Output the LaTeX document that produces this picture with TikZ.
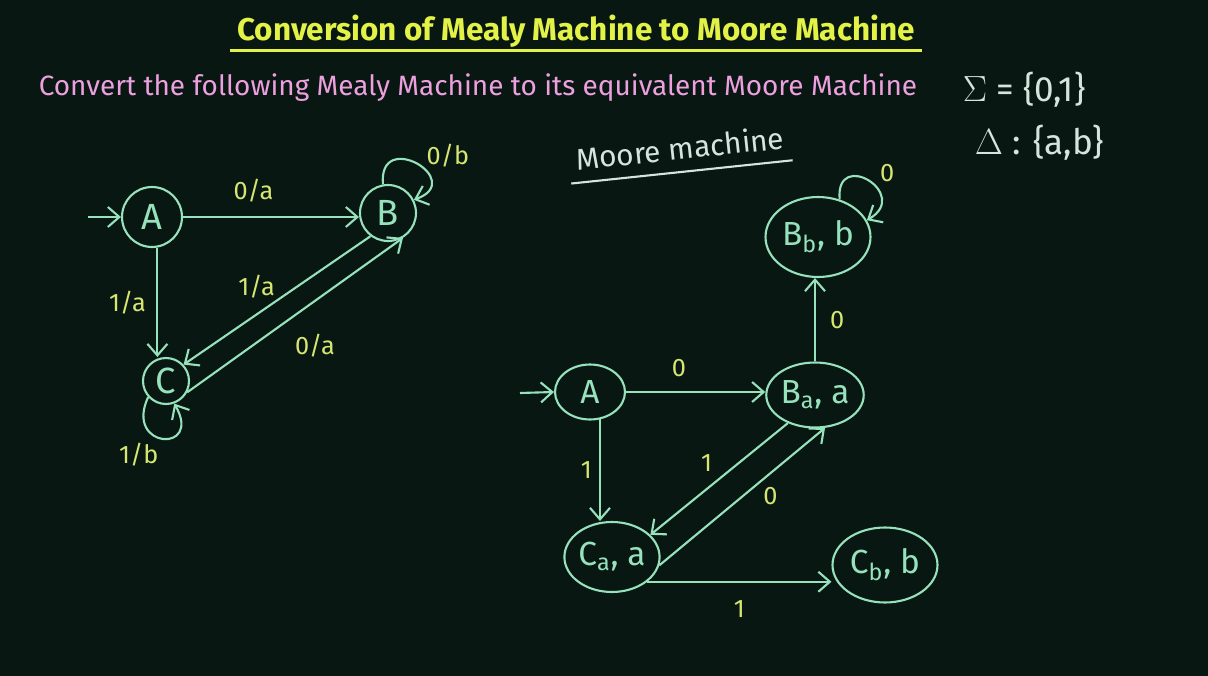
\documentclass[tikz,border=0pt]{standalone}
\usepackage{fontspec}
\setmainfont{Fira Sans}
\usepackage{tikz}
\usetikzlibrary{arrows.meta,positioning,shapes.geometric}
\definecolor{board}{RGB}{9,23,19}
\definecolor{mint}{RGB}{150,226,188}
\definecolor{chalkyellow}{RGB}{214,230,112}
\definecolor{titleyellow}{RGB}{226,242,70}
\definecolor{pinkish}{RGB}{236,160,222}
\definecolor{chalkwhite}{RGB}{214,228,222}

\begin{document}
\begin{tikzpicture}[x=0.02cm, y=0.02cm, >={Straight Barb[length=2.3mm,width=4mm]},
  line width=1.2pt, every node/.style={font=\Large},
  state/.style={circle, draw=mint, line width=1.2pt, inner sep=0pt, text=mint, font=\huge},
  mstate/.style={ellipse, draw=mint, line width=1.2pt, inner sep=0pt, text=mint, font=\fontsize{19}{22}\selectfont},
  lbl/.style={text=chalkyellow, font=\Large, inner sep=2pt}]
\fill[board] (0,0) rectangle (1208,-676);
\useasboundingbox (0,0) rectangle (1208,-676);

% heading
\node[text=titleyellow, font=\fontsize{17.9}{21}\bfseries\selectfont] (title) at (576,-31) {Conversion of Mealy Machine to Moore Machine};
\draw[titleyellow, line width=1.6pt] ([yshift=2pt]title.south west) -- ([yshift=2pt]title.south east);
\node[text=pinkish, font=\fontsize{15.9}{19}\selectfont] (task) at (478,-88) {Convert the following Mealy Machine to its equivalent Moore Machine};
\node[text=chalkwhite, anchor=west, font=\fontsize{20}{24}\selectfont] (sigma) at (956,-90) {$\Sigma$ = \{0,1\}};
\node[text=chalkwhite, anchor=west, font=\fontsize{20}{24}\selectfont] (delta) at (968,-143) {$\Delta$ : \{a,b\}};

% Mealy machine
\node[state, minimum size=1.2cm] (A) at (152,-217) {A};
\node[state, minimum size=1.12cm] (B) at (388,-213) {B};
\node[state, minimum size=0.92cm] (C) at (166,-381) {C};
\coordinate (startA) at (88,-217);
\draw[->, mint] (startA) -- (A);
\draw[->, mint] (A.east) -- node[lbl, pos=0.4, above=6pt]{0/a} (A.east -| B.west);
\draw[->, mint] (A.-80) -- node[lbl, left=4pt]{1/a} (A.-80 |- C.north);
\draw[->, mint] (B.233) -- node[lbl, above left=-2pt]{1/a} (C.43);
\draw[->, mint] (C.332) -- node[lbl, pos=0.45, below right=5pt]{0/a} (B.301);
\draw[->, mint] (B.100) to[out=95, in=20, looseness=4.2] node[lbl, pos=0.6, above right=-2pt]{0/b} (B.27);
\draw[->, mint] (C.222) to[out=245, in=300, looseness=5.5] node[lbl, pos=0.5, below left=0pt]{1/b} (C.290);

% Moore machine
\node[text=chalkwhite, rotate=6, font=\fontsize{17}{20}\selectfont] (moore) at (680,-148) {Moore machine};
\draw[chalkwhite, line width=1.2pt] ([yshift=-3pt]moore.south west) -- ([yshift=-3pt]moore.south east);
\node[mstate, minimum width=1.4cm, minimum height=1.1cm] (Am) at (590,-392) {A};
\node[mstate, minimum width=1.8cm, minimum height=1.3cm] (Baa) at (815,-395) {B\textsubscript{a}, a};
\node[mstate, minimum width=2.1cm, minimum height=1.6cm] (Bbb) at (818,-237) {B\textsubscript{b}, b};
\node[mstate, minimum width=1.8cm, minimum height=1.4cm] (Caa) at (612,-557) {C\textsubscript{a}, a};
\node[mstate, minimum width=2.1cm, minimum height=1.5cm] (Cbb) at (885,-565) {C\textsubscript{b}, b};
\coordinate (startAm) at (520,-393);
\draw[->, mint] (startAm) -- (Am.west);
\draw[->, mint] (Am.east) -- node[lbl, pos=0.38, above=6pt]{0} (Am.east -| Baa.west);
\draw[->, mint] (Am.-70) -- node[lbl, left=2pt]{1} (Am.-70 |- Caa.north);
\draw[->, mint] (Baa.226) -- node[lbl, above left=2pt]{1} (Caa.30);
\draw[->, mint] (Caa.350) -- node[lbl, pos=0.6, below right=0pt]{0} (Baa.287);
\draw[->, mint] (Baa.north) -- node[lbl, right=6pt]{0} (Baa.north |- Bbb.south);
\draw[->, mint] (Bbb.60) to[out=95, in=30, looseness=3.9] node[lbl, pos=0.6, above right=0pt]{0} (Bbb.19);
\draw[->, mint] (Caa.-35) -- node[lbl, below=8pt]{1} (Caa.-35 -| Cbb.west);
\end{tikzpicture}
\end{document}
